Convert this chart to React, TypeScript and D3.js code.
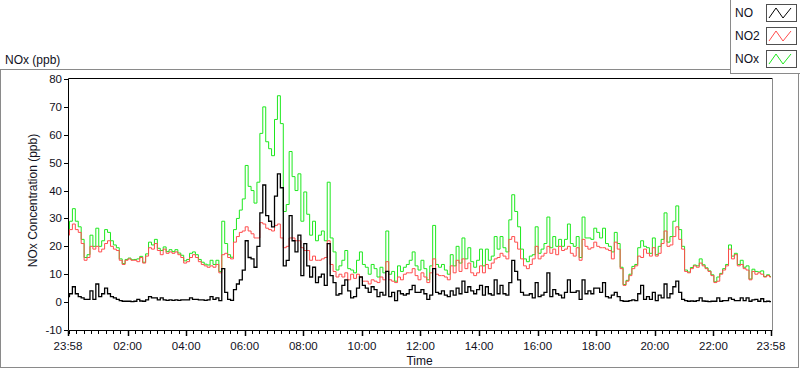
import * as d3 from "d3";

// samples every 6 minutes, starting 23:58
const startTime = new Date(2020, 0, 1, 23, 58);
const stepMinutes = 6;

const noValues = [
  2, 3, 5.5, 3, 2, 1.5, 1, 1, 4, 1,
  6.5, 2, 3, 5, 3, 2, 1.5, 1, 0.5, 0.3,
  0.3, 0.3, 0.2, 0.3, 1, 0.4, 0.3, 0.8, 2, 1.5,
  1.5, 0.8, 1.5, 0.8, 0.6, 0.8, 0.6, 0.8, 0.6, 0.8,
  0.8, 0.8, 1.5, 1, 1, 0.8, 0.8, 0.6, 0.8, 2,
  1, 1.5, 0.5, 12, 3.5, 1, 0.6, 4.5, 6.5, 8,
  11.5, 22, 16, 15.5, 12.5, 20, 32, 42, 31, 29,
  27, 38, 46, 41, 13, 15, 31, 22, 18, 24,
  9.5, 21, 13, 9, 12.5, 7, 9, 10, 6, 21,
  9.5, 7, 2.5, 3, 6, 8, 4, 1.5, 2, 5,
  9, 6, 5, 3.5, 5.5, 4.5, 2, 3.5, 2.5, 11,
  2, 3.5, 0.5, 4, 3, 2.5, 3, 4.5, 6, 3.5,
  3.5, 4.5, 3, 1, 2.5, 12, 3.5, 3, 4, 2.5,
  2, 4, 2.5, 5, 3, 7.5, 3.5, 5.5, 4, 3,
  4.5, 6, 2.5, 5.5, 3, 2.5, 8, 3, 6, 3,
  2.5, 7, 15, 11, 8, 3.5, 2.5, 2.5, 3, 1.5,
  7, 2, 2.5, 3.5, 10.5, 2, 4.5, 3, 2.5, 1.5,
  3.5, 8, 3.5, 3.5, 4, 1, 8, 3, 4, 3,
  5, 5, 3.5, 7, 2, 1.5, 2.5, 3.5, 2, 0.5,
  0.3, 0.3, 0.5, 0.8, 0.5, 3, 6, 1, 2, 1,
  3.5, 0.5, 2.5, 1.5, 6.5, 1.5, 3, 5.5, 7.5, 3.5,
  1, 0.5, 0.3, 0.4, 0.3, 0.5, 1.5, 0.4, 0.3, 0.2,
  0.3, 0.3, 1.5, 0.3, 0.5, 0.5, 1.5, 1, 0.5, 0.5,
  1.5, 0.5, 1.5, 0.3, 0.8, 1, 0.3, 1.2, 0.2, 0.3,
  0.2,
];

const no2Values = [
  24, 26, 28, 26, 25, 21, 15, 16, 20, 19,
  20, 18, 19, 21, 22, 20, 19, 18.5, 15, 13.5,
  15, 15.5, 15, 15, 14.5, 16, 14, 16.5, 19.5, 19,
  21, 18.5, 17, 19, 17.5, 18, 17.5, 18, 17, 16,
  14, 14.5, 16, 17, 16, 14.5, 13.5, 13, 12.5, 13,
  12.5, 13.5, 10.5, 17, 17.5, 16, 15.5, 21.5, 23.5, 25,
  25.5, 27, 25.5, 24.5, 23, 23, 28.5, 28, 26.5, 26,
  25.5, 27.5, 28, 23, 19.5, 20, 23, 23, 22, 22,
  19.5, 18.5, 18.5, 15, 16.5, 15, 15, 15.5, 16, 22,
  13.5, 11, 9, 10, 9, 10.5, 8, 10, 8.5, 10,
  9, 7.5, 7.5, 6.5, 8, 7.5, 7, 9, 8, 14.5,
  8, 7.5, 7, 9, 8, 10, 10.5, 10.5, 12, 9.5,
  8, 10.5, 9, 7, 10.5, 15.5, 10, 9.5, 9.5, 9,
  8, 13, 10.5, 15, 11, 15.5, 12, 14, 10.5, 9.5,
  10.5, 13, 10.5, 13.5, 12, 14, 15.5, 16, 17.5, 16.5,
  15.5, 22.5, 23.5, 21.5, 19, 15.5, 13, 12, 13.5, 15.5,
  20, 15.5, 16.5, 17.5, 20, 17.5, 19, 17, 20, 18.5,
  19, 20, 17.5, 16.5, 19.5, 15, 22.5, 20, 19, 19.5,
  21.5, 20, 19.5, 19.5, 19, 18.5, 15.5, 21.5, 19, 12,
  6, 7.5, 9.5, 12, 13, 16.5, 16, 19, 17.5, 16.5,
  19.5, 16.5, 17.5, 21, 25.5, 20, 20.5, 23.5, 27, 22.5,
  19, 11, 10.5, 12, 13, 12.5, 14, 13, 12, 11,
  9.5, 7, 7.5, 10, 11.5, 13, 19, 15.5, 17, 13,
  13.5, 12, 11.5, 8, 11, 10, 10.5, 10, 9, 9.5,
  9,
];

const noxValues = [
  26, 29, 33.5, 29, 27, 22.5, 16, 17, 24, 20,
  26.5, 20, 22, 26, 25, 22, 20.5, 19.5, 15.5, 13.8,
  15.3, 15.8, 15.2, 15.3, 15.5, 16.4, 14.3, 17.3, 21.5, 20.5,
  22.5, 19.3, 18.5, 19.8, 18.1, 18.8, 18.1, 18.8, 17.6, 16.8,
  14.8, 15.3, 17.5, 18, 17, 15.3, 14.3, 13.6, 13.3, 15,
  13.5, 15, 11, 29, 21, 17, 16.1, 26, 30, 33,
  37, 49, 41.5, 40, 35.5, 43, 60.5, 70, 57.5, 55,
  52.5, 65.5, 74, 64, 32.5, 35, 54, 45, 40, 46,
  29, 39.5, 31.5, 24, 29, 22, 24, 25.5, 22, 43,
  23, 18, 11.5, 13, 15, 18.5, 12, 11.5, 10.5, 15,
  18, 13.5, 12.5, 10, 13.5, 12, 9, 12.5, 10.5, 25.5,
  10, 11, 7.5, 13, 11, 12.5, 13.5, 15, 18, 13,
  11.5, 15, 12, 8, 13, 27.5, 13.5, 12.5, 13.5, 11.5,
  10, 17, 13, 20, 14, 23, 15.5, 19.5, 14.5, 12.5,
  15, 19, 13, 19, 15, 16.5, 23.5, 19, 23.5, 19.5,
  18, 29.5, 38.5, 32.5, 27, 19, 15.5, 14.5, 16.5, 17,
  27, 17.5, 19, 21, 30.5, 19.5, 23.5, 20, 22.5, 20,
  22.5, 28, 21, 20, 23.5, 16, 30.5, 23, 23, 22.5,
  26.5, 25, 23, 26.5, 21, 20, 18, 25, 21, 12.5,
  6.3, 7.8, 10, 12.8, 13.5, 19.5, 22, 20, 19.5, 17.5,
  23, 17, 20, 22.5, 32, 21.5, 23.5, 29, 34.5, 26,
  20, 11.5, 10.8, 12.4, 13.3, 13, 15.5, 13.4, 12.3, 11.2,
  9.8, 7.3, 9, 10.3, 12, 13.5, 20.5, 16.5, 17.5, 13.5,
  15, 12.5, 13, 8.3, 11.8, 11, 10.8, 11.2, 9.2, 9.8,
  9.2,
];

const yTickValues = [-10, 0, 10, 20, 30, 40, 50, 60, 70, 80];

const seriesNames = ["NO", "NO2", "NOx"];
const seriesColors = ["#000000", "#ff4d4d", "#1ee81e"];

const FONT = "'Segoe UI', 'Liberation Sans', Arial, sans-serif";
const TEXT = "#111122";

export default function App() {
  const width = 800;
  const height = 369;
  const plot = { left: 68, right: 771, top: 79, bottom: 330 };

  const endTime = new Date(startTime.getTime() + 24 * 60 * 60 * 1000);
  const timeAt = (i: number) => new Date(startTime.getTime() + i * stepMinutes * 60000);

  const x = d3.scaleTime().domain([startTime, endTime]).range([plot.left, plot.right]);
  const y = d3.scaleLinear().domain([-10, 80]).range([plot.bottom, plot.top]);

  const line = d3
    .line<number>()
    .x((_, i) => x(timeAt(i)))
    .y((d) => y(d))
    .curve(d3.curveStep);

  // major ticks every 2 h, leaving out those that crowd the 23:58 end labels
  const majorTicks = d3.timeHour
    .every(2)!
    .range(new Date(startTime.getTime() + 60000), endTime)
    .filter((t) => t.getTime() - startTime.getTime() > 30 * 60000 && endTime.getTime() - t.getTime() > 30 * 60000);
  const minorTicks = d3.timeMinute.every(15)!.range(new Date(startTime.getTime() + 60000), endTime);
  const fmt = d3.timeFormat("%H:%M");

  const seriesData = [noValues, no2Values, noxValues];
  const drawOrder = [2, 1, 0];

  return (
    <div style={{ position: "fixed", left: 0, top: 0 }}>
      <svg width={width} height={height} style={{ display: "block", background: "#fff" }} fontFamily={FONT}>
        {/* outer frame */}
        <rect x={0.5} y={69.5} width={798} height={298} fill="#fff" stroke="#8a8a8a" />

        <text x={5} y={64} fontSize="12" fill={TEXT}>NOx (ppb)</text>

        {/* plot area */}
        <defs>
          <clipPath id="plotClip">
            <rect x={plot.left + 1} y={plot.top} width={plot.right - plot.left} height={plot.bottom - plot.top} />
          </clipPath>
        </defs>

        <g clipPath="url(#plotClip)">
          {drawOrder.map((k) => (
            <path
              key={seriesNames[k]}
              d={line(seriesData[k]) ?? ""}
              fill="none"
              stroke={seriesColors[k]}
              strokeWidth={k === 0 ? 1.3 : 1}
            />
          ))}
        </g>

        {/* frame lines */}
        <line x1={plot.left + 0.5} x2={plot.right + 1.5} y1={plot.top - 0.5} y2={plot.top - 0.5} stroke="#000" />
        <line x1={plot.left + 0.5} x2={plot.left + 0.5} y1={plot.top - 0.5} y2={plot.bottom + 0.5} stroke="#000" />
        <line x1={plot.left + 0.5} x2={plot.right + 1.5} y1={plot.bottom + 0.5} y2={plot.bottom + 0.5} stroke="#000" />
        <line x1={plot.right + 1.5} x2={plot.right + 1.5} y1={plot.top - 0.5} y2={plot.bottom + 0.5} stroke="#8a8a8a" />

        {/* y axis */}
        {yTickValues.map((t) => (
          <g key={t}>
            <line x1={plot.left - 4} x2={plot.left} y1={Math.round(y(t)) + 0.5} y2={Math.round(y(t)) + 0.5} stroke="#000" />
            <text x={plot.left - 6} y={y(t)} textAnchor="end" dominantBaseline="central" fontSize="11.5" fill={TEXT}>
              {t}
            </text>
          </g>
        ))}
        <text
          transform={`translate(33, ${(plot.top + plot.bottom) / 2 - 4}) rotate(-90)`}
          textAnchor="middle"
          dominantBaseline="central"
          fontSize="12"
          fill={TEXT}
        >
          NOx Concentration (ppb)
        </text>

        {/* x axis */}
        {minorTicks.map((t) => (
          <line
            key={t.getTime()}
            x1={Math.round(x(t)) + 0.5}
            x2={Math.round(x(t)) + 0.5}
            y1={plot.bottom + 1}
            y2={plot.bottom + 4}
            stroke="#000"
          />
        ))}
        {[startTime, ...majorTicks, endTime].map((t, i) => (
          <g key={i}>
            <line
              x1={Math.round(x(t)) + 0.5}
              x2={Math.round(x(t)) + 0.5}
              y1={plot.bottom + 1}
              y2={plot.bottom + 6}
              stroke="#000"
              strokeWidth={1.5}
            />
            <text x={x(t)} y={plot.bottom + 16} textAnchor="middle" dominantBaseline="central" fontSize="11.5" fill={TEXT}>
              {fmt(t)}
            </text>
          </g>
        ))}
        <text x={(plot.left + plot.right) / 2} y={361} textAnchor="middle" dominantBaseline="central" fontSize="12" fill={TEXT}>
          Time
        </text>

        {/* legend */}
        <rect x={730.5} y={-1} width={70} height={74.5} fill="#fff" stroke="#8a8a8a" />
        {seriesNames.map((name, i) => {
          const top = 4 + i * 23;
          return (
            <g key={name}>
              <text x={735} y={top + 9} dominantBaseline="central" fontSize="12" fill={TEXT}>
                {name}
              </text>
              <rect x={766.5} y={top + 0.5} width={30} height={17} fill="#fff" stroke="#505050" />
              <path
                d={`M${769},${top + 14} L${776},${top + 4} L${783},${top + 14} L${791},${top + 4}`}
                fill="none"
                stroke={seriesColors[i]}
                strokeWidth={1}
              />
            </g>
          );
        })}
      </svg>
    </div>
  );
}
